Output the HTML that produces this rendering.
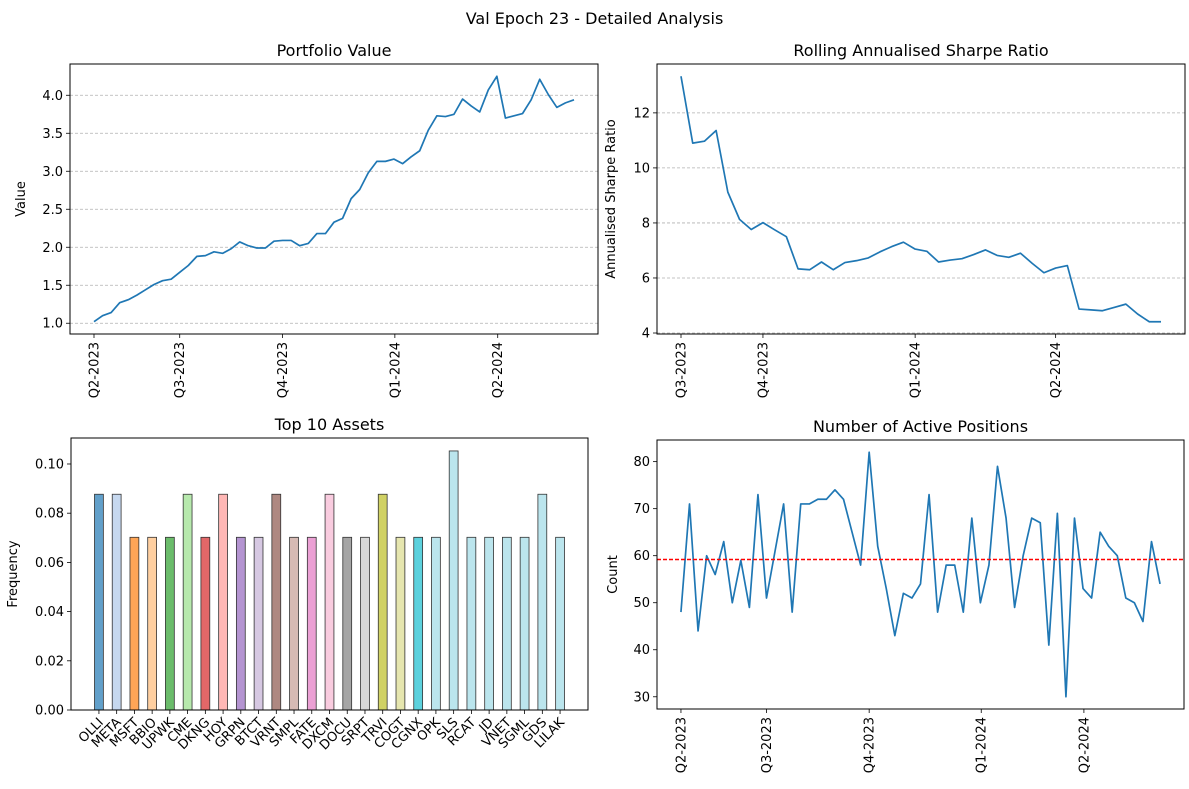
<!DOCTYPE html>
<html><head><meta charset="utf-8"><style>
body{margin:0;background:#fff}
svg{font-family:"DejaVu Sans","Liberation Sans",sans-serif;display:block}
</style></head><body>
<svg id="fig" width="1189" height="789" viewBox="0 0 1189 789">
<rect width="1189" height="789" fill="#fff"/>
<text x="594.5" y="24" font-size="16" text-anchor="middle">Val Epoch 23 - Detailed Analysis</text>
</svg>
<script>
const pvValues=[1.02,1.10,1.14,1.27,1.31,1.37,1.44,1.51,1.56,1.58,1.67,1.76,1.88,1.89,1.94,1.92,1.98,2.07,2.02,1.99,1.99,2.08,2.09,2.09,2.02,2.05,2.18,2.18,2.33,2.38,2.64,2.76,2.98,3.13,3.13,3.16,3.10,3.19,3.27,3.54,3.73,3.72,3.75,3.95,3.86,3.78,4.07,4.25,3.70,3.73,3.76,3.94,4.21,4.01,3.84,3.90,3.94];
const pvTicks=[1.0,1.5,2.0,2.5,3.0,3.5,4.0];
const qLabels=["Q2-2023","Q3-2023","Q4-2023","Q1-2024","Q2-2024"];
const qPos=[0,10,22,35.1,47.1];
const srValues=[13.33,10.90,10.97,11.36,9.12,8.13,7.76,8.01,7.75,7.50,6.33,6.30,6.58,6.30,6.56,6.63,6.73,6.95,7.14,7.30,7.05,6.97,6.58,6.65,6.70,6.85,7.02,6.82,6.75,6.90,6.53,6.19,6.36,6.45,4.87,4.84,4.81,4.93,5.05,4.69,4.41,4.41];
const srTicks=[4,6,8,10,12];
const srLabels=["Q3-2023","Q4-2023","Q1-2024","Q2-2024"];
const srPos=[0,7,20,32];
const assets=["OLLI","META","MSFT","BBIO","UPWK","CME","DKNG","HOY","GRPN","BTCT","VRNT","SMPL","FATE","DXCM","DOCU","SRPT","TRVI","COGT","CGNX","OPK","SLS","RCAT","JD","VNET","SGML","GDS","LILAK"];
const freq=[0.0877,0.0877,0.0702,0.0702,0.0702,0.0877,0.0702,0.0877,0.0702,0.0702,0.0877,0.0702,0.0702,0.0877,0.0702,0.0702,0.0877,0.0702,0.0702,0.0702,0.1053,0.0702,0.0702,0.0702,0.0702,0.0877,0.0702];
const freqTicks=[0,0.02,0.04,0.06,0.08,0.10];
const barColors=["#1f77b4","#aec7e8","#ff7f0e","#ffbb78","#2ca02c","#98df8a","#d62728","#ff9896","#9467bd","#c5b0d5","#8c564b","#c49c94","#e377c2","#f7b6d2","#7f7f7f","#c7c7c7","#bcbd22","#dbdb8d","#17becf","#9edae5"];
const posValues=[48,71,44,60,56,63,50,59,49,73,51,61,71,48,71,71,72,72,74,72,65,58,82,62,53,43,52,51,54,73,48,58,58,48,68,50,58,79,68,49,60,68,67,41,69,30,68,53,51,65,62,60,51,50,46,63,54];
const posTicks=[30,40,50,60,70,80];
const posMean=59.2;

const svg=document.getElementById('fig');
const NS='http://www.w3.org/2000/svg';
function mk(tag,attrs,parent){const e=document.createElementNS(NS,tag);for(const k in attrs)e.setAttribute(k,attrs[k]);(parent||svg).appendChild(e);return e;}
function scale(d0,d1,r0,r1){return v=>r0+(v-d0)/(d1-d0)*(r1-r0);}

function axesFrame(g,b,title,ylabel,ylx){
  const t=mk('text',{x:(b.x0+b.x1)/2,y:b.y0-8,'font-size':16,'text-anchor':'middle'},g);
  
  
  t.textContent=title;
  const yl=mk('text',{x:ylx,y:(b.y0+b.y1)/2,'font-size':13,'text-anchor':'middle',transform:`rotate(-90 ${ylx} ${(b.y0+b.y1)/2})`},g);
  
  
  yl.textContent=ylabel;
}
function yTicks(g,b,ys,ticks,fmt,grid){
  ticks.forEach(v=>{const y=ys(v);
    if(grid){const gl=mk('line',{x1:b.x0,x2:b.x1,y1:y,y2:y,stroke:'#b0b0b0','stroke-width':0.8,'stroke-dasharray':'3,2'},g);
      
      }
    mk('line',{x1:b.x0-4,x2:b.x0,y1:y,y2:y,stroke:'#000','stroke-width':0.8},g);
    const t=mk('text',{x:b.x0-7,y:y+4.5,'font-size':13,'text-anchor':'end'},g);
    
    
    t.textContent=fmt(v);});
}
function xDateTicks(g,b,xs,pos,labels){
  pos.forEach((p,i)=>{const x=xs(p);
    mk('line',{x1:x,x2:x,y1:b.y1,y2:b.y1+4,stroke:'#000','stroke-width':0.8},g);
    const t=mk('text',{x:x+4.5,y:b.y1+8,'font-size':13,'text-anchor':'end',transform:`rotate(-90 ${x+4.5} ${b.y1+8})`},g);
    
    
    t.textContent=labels[i];});
}
function border(g,b){const r=mk('rect',{x:b.x0,y:b.y0,width:b.x1-b.x0,height:b.y1-b.y0,fill:'none',stroke:'#000','stroke-width':1},g);
  
  }
function line(g,vals,xs,ys,name){
  const d=vals.map((v,i)=>(i?'L':'M')+xs(i).toFixed(2)+','+ys(v).toFixed(2)).join('');
  const p=mk('path',{d,fill:'none',stroke:'#1f77b4','stroke-width':1.7,'stroke-linejoin':'round'},g);
  
  
}

{const g=mk('g',{});
 
 
 const b={x0:70,x1:598,y0:64,y1:334};
 const n=pvValues.length-1,m=n*0.05;
 const xs=scale(-m,n+m,b.x0,b.x1);
 const mn=Math.min(...pvValues),mx=Math.max(...pvValues),pm=(mx-mn)*0.05;
 const ys=scale(mn-pm,mx+pm,b.y1,b.y0);
 axesFrame(g,b,'Portfolio Value','Value',25);
 yTicks(g,b,ys,pvTicks,v=>v.toFixed(1),true);
 xDateTicks(g,b,xs,qPos,qLabels);
 line(g,pvValues,xs,ys,'portfolio-value-line');
 border(g,b);}

{const g=mk('g',{});
 
 
 const b={x0:657,x1:1185,y0:64,y1:334};
 const n=srValues.length-1,m=n*0.05;
 const xs=scale(-m,n+m,b.x0,b.x1);
 const mn=Math.min(...srValues),mx=Math.max(...srValues),pm=(mx-mn)*0.05;
 const ys=scale(mn-pm,mx+pm,b.y1,b.y0);
 axesFrame(g,b,'Rolling Annualised Sharpe Ratio','Annualised Sharpe Ratio',615);
 yTicks(g,b,ys,srTicks,v=>String(v),true);
 xDateTicks(g,b,xs,srPos,srLabels);
 line(g,srValues,xs,ys,'sharpe-ratio-line');
 border(g,b);}

{const g=mk('g',{});
 
 
 const b={x0:71,x1:588,y0:438,y1:710};
 const xs=scale(-1.575,assets.length-1+1.575,b.x0,b.x1);
 const ys=scale(0,Math.max(...freq)*1.05,b.y1,b.y0);
 axesFrame(g,b,'Top 10 Assets','Frequency',17);
 yTicks(g,b,ys,freqTicks,v=>v.toFixed(2),false);
 const bw=xs(0.25)-xs(0);
 assets.forEach((a,i)=>{const x=xs(i),y=ys(freq[i]);
   const r=mk('rect',{x:x-bw,y:y,width:2*bw,height:b.y1-y,fill:barColors[Math.min(i,barColors.length-1)],'fill-opacity':0.7,stroke:'#333','stroke-width':0.8},g);
   
   
   mk('line',{x1:x,x2:x,y1:b.y1,y2:b.y1+4,stroke:'#000','stroke-width':0.8},g);
   const tx=x+5,ty=b.y1+13;
   const t=mk('text',{x:tx,y:ty,'font-size':13,'text-anchor':'end',transform:`rotate(-45 ${tx} ${ty})`},g);
   
   
   t.textContent=a;});
 border(g,b);}

{const g=mk('g',{});
 
 
 const b={x0:657,x1:1184,y0:440,y1:709};
 const n=posValues.length-1,m=n*0.05;
 const xs=scale(-m,n+m,b.x0,b.x1);
 const mn=Math.min(...posValues),mx=Math.max(...posValues),pm=(mx-mn)*0.05;
 const ys=scale(mn-pm,mx+pm,b.y1,b.y0);
 axesFrame(g,b,'Number of Active Positions','Count',617);
 yTicks(g,b,ys,posTicks,v=>String(v),false);
 xDateTicks(g,b,xs,qPos,qLabels);
 line(g,posValues,xs,ys,'active-positions-line');
 const ml=mk('line',{x1:b.x0,x2:b.x1,y1:ys(posMean),y2:ys(posMean),stroke:'#ff0000','stroke-width':1.5,'stroke-dasharray':'4,2'},g);
 
 
 border(g,b);}
</script>
</body></html>
